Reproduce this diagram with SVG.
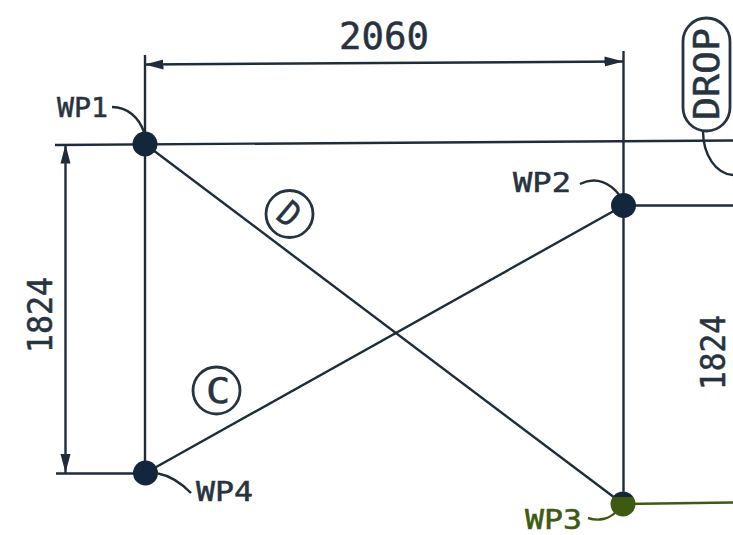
<svg xmlns="http://www.w3.org/2000/svg" width="733" height="535" viewBox="0 0 733 535">
<style>
.l{fill:none;stroke:#1f2d3a;stroke-width:2.4}
.t{font-family:"DejaVu Sans Mono","Liberation Mono",monospace;fill:#27333f;stroke:#27333f;stroke-width:.5}
.g{fill:#3d5a12;stroke:#3d5a12}
.c{fill:none;stroke:#27333f;stroke-width:2.800}
.dot{fill:#14263c}
</style>
<defs>
<marker id="a" markerUnits="userSpaceOnUse" markerWidth="20" markerHeight="12" refX="19" refY="5.5" orient="auto-start-reverse"><path d="M0 .5L19 5.5L0 10.500Z" fill="#1f2d3a"/></marker>
</defs>
<rect width="733" height="535" fill="#fff"/>
<g id="connectors">
<path class="l" d="M55 145L733 140.5"/>
<path class="l" d="M145 55V473"/>
<path class="l" d="M623.500 51V504"/>
<path class="l" d="M56 473.500H145"/>
<path class="l" d="M623 205.500H733"/>
<path class="l" d="M145 144L623 504"/>
<path class="l" d="M145.500 473L623.500 205.500"/>
<path d="M623 504L733 502.500" fill="none" stroke="#3d5a12" stroke-width="2.400"/>
<path class="l" d="M144.500 64.500L623.500 61.500" marker-start="url(#a)" marker-end="url(#a)"/>
<path class="l" d="M65.500 144.500V473" marker-start="url(#a)" marker-end="url(#a)"/>
<path class="l" d="M112 107C128 107 139 118 144 132"/>
<path class="l" d="M580 184C596 176 611 183 620 196"/>
<path d="M588 518C600 522 610 518 616 512" fill="none" stroke="#3d5a12" stroke-width="2.400"/>
<path class="l" d="M158 473.500C172 476 182 484 191 493"/>
<path class="l" d="M703 131C703 155 716 174 733 175"/>
</g>
<g id="dim-width"><text class="t" x="339" y="49" font-size="37" textLength="90" lengthAdjust="spacingAndGlyphs">2060</text></g>
<g id="dim-height-left"><text class="t" transform="translate(52 353) rotate(-90)" font-size="33" textLength="76" lengthAdjust="spacingAndGlyphs">1824</text></g>
<g id="dim-height-right"><text class="t" transform="translate(725 390) rotate(-90)" font-size="33" textLength="75" lengthAdjust="spacingAndGlyphs">1824</text></g>
<g id="WP1"><circle class="dot" cx="145" cy="144" r="12.500"/><text class="t" x="57" y="117" font-size="27" textLength="51" lengthAdjust="spacingAndGlyphs">WP1</text></g>
<g id="WP2"><circle class="dot" cx="623.500" cy="205.500" r="12.500"/><text class="t" x="513" y="192" font-size="27" textLength="58" lengthAdjust="spacingAndGlyphs">WP2</text></g>
<g id="WP3"><circle cx="623" cy="504" r="12.500" fill="#3d5a12"/><path d="M613 497A12.500 12.500 0 0 1 633 497Z" fill="#14263c"/><text class="t g" x="525" y="529" font-size="27" textLength="57" lengthAdjust="spacingAndGlyphs">WP3</text></g>
<g id="WP4"><circle class="dot" cx="145.500" cy="473" r="12.500"/><text class="t" x="196" y="501" font-size="27" textLength="57" lengthAdjust="spacingAndGlyphs">WP4</text></g>
<g id="C"><circle class="c" cx="216.500" cy="390.500" r="23.500"/><text class="t" transform="translate(218 403) scale(1.150 1)" font-size="35" text-anchor="middle">C</text></g>
<g id="D"><circle class="c" cx="289.500" cy="214" r="23.500"/><text class="t" transform="translate(289.500 214) rotate(40) scale(.85 1)" y="12.500" font-size="35" text-anchor="middle">D</text></g>
<g id="DROP"><rect class="c" x="683" y="18" width="47" height="113" rx="23.500"/><text class="t" transform="translate(719 120) rotate(-90)" font-size="36" textLength="92" lengthAdjust="spacingAndGlyphs">DROP</text></g>
</svg>
